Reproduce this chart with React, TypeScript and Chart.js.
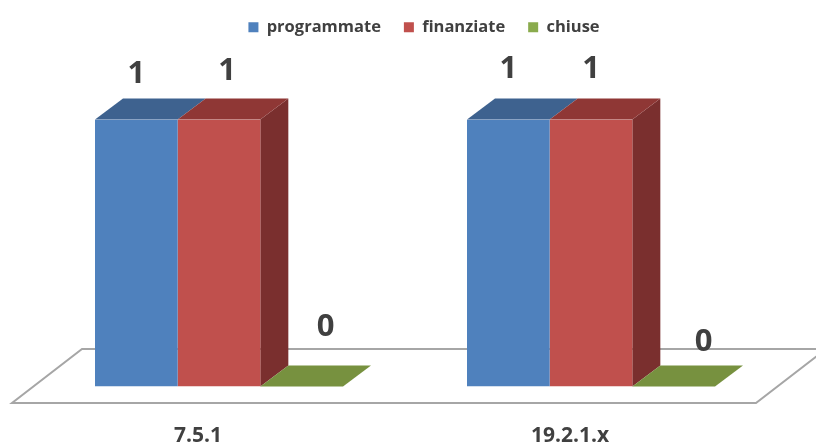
import React, { useEffect, useRef } from "react";
import { Chart, registerables } from "chart.js";

Chart.register(...registerables);

const categories = ["7.5.1", "19.2.1.x"];
const programmate = [1, 1];
const finanziate = [1, 1];
const chiuse = [0, 0];
const seriesNames = ["programmate", "finanziate", "chiuse"];
const frontColors = ["#4F81BD", "#C0504D", "#8AAB4D"];
const topColors = ["#3E628F", "#8F3735", "#77913F"];
const sideColors = ["#345276", "#7A2F2E", "#5F7532"];

const FONT = "'Open Sans', sans-serif";
const TEXT = "#404040";
const DEPTH_X = 28;
const DEPTH_Y = 21;
// hand placement of the value labels relative to each bar's top (series -> category -> [dx, dy])
const labelNudges = [
  [[0, -45.5], [0, -50.5]],
  [[8, -48.5], [0, -50.5]],
  [[24, -59], [30, -44]],
];

const poly = (ctx: CanvasRenderingContext2D, pts: number[][], fill: string) => {
  ctx.beginPath();
  pts.forEach(([x, y], i) => (i ? ctx.lineTo(x, y) : ctx.moveTo(x, y)));
  ctx.closePath();
  ctx.fillStyle = fill;
  ctx.fill();
};

const bar3d = {
  id: "bar3d",
  afterLayout(chart: any) {
    chart.legend.left += 19;
    chart.legend.right += 19;
    chart.legend.top = -4;
  },
  beforeDatasetsDraw(chart: any) {
    const { ctx, chartArea: a } = chart;
    ctx.save();
    const fx = -21;
    const fy = 16.5;
    const bx = 49;
    const by = -37.5;
    ctx.beginPath();
    ctx.moveTo(a.left + fx, a.bottom + fy);
    ctx.lineTo(a.right + fx, a.bottom + fy);
    ctx.lineTo(a.right + bx, a.bottom + by);
    ctx.lineTo(a.left + bx, a.bottom + by);
    ctx.closePath();
    ctx.fillStyle = "#ffffff";
    ctx.fill();
    ctx.lineWidth = 2;
    ctx.strokeStyle = "#A6A6A6";
    ctx.stroke();
    chart.data.datasets.forEach((ds: any, s: number) => {
      chart.getDatasetMeta(s).data.forEach((el: any, i: number) => {
        const l = el.x - el.width / 2;
        const r = el.x + el.width / 2;
        const t = el.y;
        const b = el.base;
        const next = chart.data.datasets[s + 1];
        const hiddenByNext = next && next.data[i] >= ds.data[i];
        if (b > t && !hiddenByNext) {
          poly(ctx, [[r, t], [r + DEPTH_X, t - DEPTH_Y], [r + DEPTH_X, b - DEPTH_Y], [r, b]], sideColors[s]);
        }
        poly(ctx, [[l, t], [r, t], [r + DEPTH_X, t - DEPTH_Y], [l + DEPTH_X, t - DEPTH_Y]], topColors[s]);
      });
    });
    ctx.restore();
  },
  afterDatasetsDraw(chart: any) {
    const { ctx } = chart;
    ctx.save();
    ctx.font = `bold 31px ${FONT}`;
    ctx.fillStyle = TEXT;
    ctx.textAlign = "center";
    ctx.textBaseline = "middle";
    chart.data.datasets.forEach((ds: any, s: number) => {
      chart.getDatasetMeta(s).data.forEach((el: any, i: number) => {
        const [dx, dy] = labelNudges[s][i];
        ctx.fillText(String(ds.data[i]), el.x + dx, el.y + dy);
      });
    });
    ctx.restore();
  },
};

export default function App() {
  const ref = useRef<HTMLCanvasElement>(null);
  useEffect(() => {
    const chart = new Chart(ref.current as HTMLCanvasElement, {
      type: "bar",
      data: {
        labels: categories,
        datasets: [programmate, finanziate, chiuse].map((data, i) => ({
          label: seriesNames[i],
          data,
          backgroundColor: frontColors[i],
          borderWidth: 0,
          categoryPercentage: 2 / 3,
          barPercentage: 1,
        })),
      },
      options: {
        responsive: false,
        animation: false,
        layout: { padding: { left: 33, right: 39, top: 70, bottom: 0 } },
        plugins: {
          tooltip: { enabled: false },
          legend: {
            display: true,
            position: "top",
            labels: {
              boxWidth: 10,
              boxHeight: 10,
              padding: 23,
              color: TEXT,
              font: { family: FONT, size: 16.5, weight: "bold" },
            },
          },
        },
        scales: {
          x: {
            afterFit(scale: any) {
              scale.height = 55.5;
            },
            grid: { display: false },
            border: { display: false },
            ticks: {
              padding: 28.5,
              labelOffset: -21,
              autoSkip: false,
              maxRotation: 0,
              color: TEXT,
              font: { family: FONT, size: 21, weight: "bold" },
            },
          },
          y: { display: false, min: 0, max: 1 },
        },
      },
      plugins: [bar3d],
    } as any);
    return () => chart.destroy();
  }, []);
  return (
    <canvas
      ref={ref}
      width={816}
      height={442}
      style={{ position: "absolute", left: 0, top: 0, display: "block" }}
    />
  );
}
